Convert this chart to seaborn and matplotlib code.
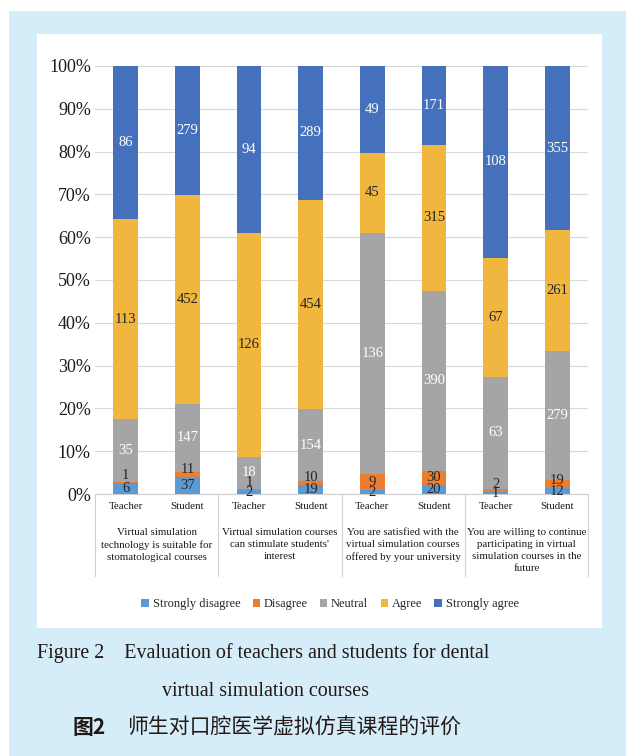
import numpy as np
import pandas as pd
import matplotlib
matplotlib.use("Agg")
import matplotlib.pyplot as plt
import matplotlib.transforms as mtransforms
from matplotlib.patches import Rectangle, Patch
import seaborn as sns

# ---------------- data ----------------
levels = ["Strongly disagree", "Disagree", "Neutral", "Agree", "Strongly agree"]
bar_ids = ["T1", "S1", "T2", "S2", "T3", "S3", "T4", "S4"]
bar_labels = ["Teacher", "Student"] * 4
strongly_disagree = [6, 37, 2, 19, 2, 20, 1, 12]
disagree = [1, 11, 1, 10, 9, 30, 2, 19]
neutral = [35, 147, 18, 154, 136, 390, 63, 279]
agree = [113, 452, 126, 454, 45, 315, 67, 261]
strongly_agree = [86, 279, 94, 289, 49, 171, 108, 355]
groups = [
    "Virtual simulation\ntechnology is suitable for\nstomatological courses",
    "Virtual simulation courses\ncan stimulate students'\ninterest",
    "You are satisfied with the\nvirtual simulation courses\noffered by your university",
    "You are willing to continue\nparticipating in virtual\nsimulation courses in the\nfuture",
]
ytick_vals = [0.0, 0.1, 0.2, 0.3, 0.4, 0.5, 0.6, 0.7, 0.8, 0.9, 1.0]
ytick_labels = ["0%", "10%", "20%", "30%", "40%", "50%", "60%", "70%", "80%", "90%", "100%"]
caption_en1 = "Figure 2    Evaluation of teachers and students for dental"
caption_en2 = "virtual simulation courses"
caption_zh_a = "图2"
caption_zh_b = "师生对口腔医学虚拟仿真课程的评价"

# ---------------- style ----------------
colors = ["#5B9BD5", "#ED7D31", "#A5A5A7", "#F1B63E", "#4571BC"]
label_colors = ["#262626", "#262626", "white", "#262626", "white"]
serif = "Liberation Serif"

sns.set_theme(style="white")
plt.rcParams["font.family"] = [serif, "DejaVu Sans"]

counts = np.array([strongly_disagree, disagree, neutral, agree, strongly_agree], dtype=float)
fracs = counts / counts.sum(axis=0)
cum = np.cumsum(fracs, axis=0)

fig = plt.figure(figsize=(6.26, 7.56), dpi=100)
fig.patch.set_facecolor("white")
W, H = 626.0, 756.0
fig.patches.append(Rectangle((9 / W, 0), 1 - 9 / W, (H - 11) / H, transform=fig.transFigure,
                             facecolor="#D5ECF9", edgecolor="none", zorder=-10))
fig.patches.append(Rectangle((37 / W, 1 - 628 / H), (602 - 37) / W, (628 - 34) / H,
                             transform=fig.transFigure, facecolor="white", edgecolor="none", zorder=-9))

ax = fig.add_axes([95 / W, 1 - 494 / H, (588 - 95) / W, (494 - 66) / H])
ax.set_facecolor("none")

# stacked bars: draw cumulative heights from top level down
for i in range(len(levels) - 1, -1, -1):
    df = pd.DataFrame({"bar": bar_ids, "value": cum[i]})
    sns.barplot(data=df, x="bar", y="value", order=bar_ids, color=colors[i],
                width=0.4, saturation=1, ax=ax, zorder=3, linewidth=0)

# value labels
for i in range(len(levels)):
    for j in range(len(bar_ids)):
        mid = cum[i, j] - fracs[i, j] / 2
        if i == 1:
            mid = max(mid, cum[0, j] + 0.018)
        ax.text(j, mid, f"{int(counts[i, j])}", ha="center", va="center",
                fontsize=10.5, color=label_colors[i], zorder=5)

ax.set_xlim(-0.5, 7.5)
ax.set_ylim(0, 1)
ax.set_yticks(ytick_vals)
ax.set_yticklabels(ytick_labels, fontsize=13, color="#1a1a1a")
ax.set_xticks(range(len(bar_ids)))
ax.set_xticklabels(bar_labels, fontsize=7.8, color="#1a1a1a")
ax.tick_params(axis="x", length=0, pad=6)
ax.tick_params(axis="y", length=0, pad=3)
ax.set_xlabel("")
ax.set_ylabel("")
ax.grid(axis="y", color="#D9D9D9", linewidth=0.8, zorder=0)
ax.set_axisbelow(True)
for s in ["left", "right", "top"]:
    ax.spines[s].set_visible(False)
ax.spines["bottom"].set_color("#D0D0D0")
ax.spines["bottom"].set_linewidth(0.8)

# group separators and group labels
trans = mtransforms.blended_transform_factory(ax.transData, ax.transAxes)
sep_bottom = -(576 - 494) / 428
for xs in [-0.5, 1.5, 3.5, 5.5, 7.5]:
    ax.plot([xs, xs], [0, sep_bottom], transform=trans, color="#D0D0D0",
            linewidth=0.8, clip_on=False)
for g, text in enumerate(groups):
    ax.text(2 * g + 0.5, -(528 - 494) / 428, text, transform=trans, ha="center", va="top",
            fontsize=7.8, linespacing=1.42, color="#1a1a1a")

# legend
handles = [Patch(facecolor=c, edgecolor="none") for c in colors]
fig.legend(handles, levels, loc="center", bbox_to_anchor=(330 / W, 1 - 604 / H), ncol=5,
           frameon=False, fontsize=8.9, handlelength=0.6, handleheight=0.6,
           handletextpad=0.3, columnspacing=1.0)

# captions
fig.text(263 / W, 1 - 653 / H, caption_en1, ha="center", va="center", fontsize=14.4,
         color="#231815", family=serif)
fig.text(266 / W, 1 - 692 / H, caption_en2, ha="center", va="center", fontsize=14.4,
         color="#231815", family=serif)
fig.text(73 / W, 1 - 728 / H, caption_zh_a, ha="left", va="center", fontsize=15,
         color="#231815", family=["Noto Sans CJK SC"], fontweight="bold")
fig.text(127 / W, 1 - 728 / H, caption_zh_b, ha="left", va="center", fontsize=15,
         color="#231815", family=["Noto Sans CJK SC"])

fig.savefig("out.png", dpi=100, facecolor=fig.get_facecolor())
